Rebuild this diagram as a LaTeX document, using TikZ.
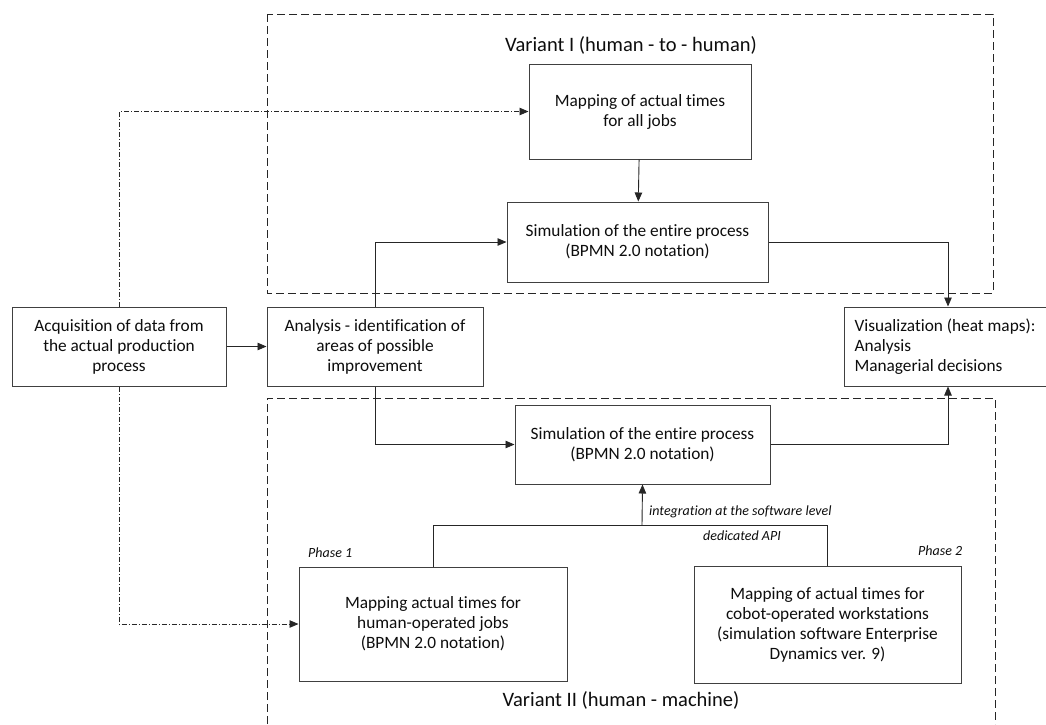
\documentclass[tikz,border=0pt]{standalone}
\usepackage{fontspec}
\setmainfont[Ligatures=CommonOff]{Carlito}
\usetikzlibrary{arrows.meta}

\begin{document}
\begin{tikzpicture}[x=1pt, y=-1pt,
        box/.style={draw=black!75, line width=1pt, align=center, inner sep=0pt, text=black!95, font=\fontsize{17.3}{20}\selectfont},
        flow/.style={draw=black!85, line width=0.9pt, -{Triangle[length=9pt, width=7.5pt]}},
        feed/.style={flow, dash pattern=on 5pt off 2pt on 1pt off 2pt},
        frame/.style={draw=black!85, line width=0.9pt, dash pattern=on 8pt off 4pt},
        note/.style={inner sep=0pt, text=black!95, font=\fontsize{14}{16}\selectfont\itshape},
        title/.style={inner sep=0pt, text=black!95, font=\fontsize{20.5}{24}\selectfont}]
        \useasboundingbox (0,0) rectangle (1046,724);
        % variant frames
        \draw[frame] (267,14) rectangle (993,293);
        \draw[frame] (267,724) -- (267,398) -- (995,398) -- (995,724);
        \node[title] (varI) at (631,45) {Variant I (human - to - human)};
        \node[title] (varII) at (621,700) {Variant II (human - machine)};
        % boxes
        \node[box, minimum width=214, minimum height=79] (acq) at (119,346.5) {Acquisition of data from\\the actual production\\process};
        \node[box, minimum width=216, minimum height=79] (ana) at (375,346.5) {Analysis - identification of\\areas of possible\\improvement};
        \node[box, minimum width=202, minimum height=79, align=left] (vis) at (945,346.5) {Visualization (heat maps):\\Analysis\\Managerial decisions};
        \node[box, minimum width=222, minimum height=95] (map) at (640,111.5) {Mapping of actual times\\for all jobs};
        \node[box, minimum width=261, minimum height=80] (simI) at (637.5,242) {Simulation of the entire process\\(BPMN 2.0 notation)};
        \node[box, minimum width=255, minimum height=79] (simII) at (642.5,444.5) {Simulation of the entire process\\(BPMN 2.0 notation)};
        \node[box, minimum width=268, minimum height=114] (ph1) at (433,624) {Mapping actual times for\\human-operated jobs\\(BPMN 2.0 notation)};
        \node[box, minimum width=267, minimum height=117] (ph2) at (827.5,624.5) {Mapping of actual times for\\cobot-operated workstations\\(simulation software Enterprise\\Dynamics ver. 9)};
        % labels
        \node[note, anchor=west] (integ) at (649,512) {integration at the software level};
        \node[note] (api lbl) at (742,536) {dedicated API};
        \node[note, anchor=west] (ph1 lbl) at (308,553) {Phase 1};
        \node[note, anchor=west] (ph2 lbl) at (918,551) {Phase 2};
        % connectors
        \draw[flow] (acq) -- (ana);
        \draw[flow] (map) -- (simI);
        \draw[flow] (ana.north) |- (simI.west);
        \draw[flow] (ana.south) |- (simII.west);
        \draw[flow] (simI.east) -| ([xshift=3pt]vis.north);
        \draw[flow] (simII.east) -| ([xshift=3pt]vis.south);
        \draw[feed] (acq.north) |- (map.west);
        \draw[feed] (acq.south) |- (ph1.west);
        \coordinate (api) at (642,525);
        \draw[draw=black!85, line width=0.9pt] (ph1.north) |- (api) -| (ph2.north);
        \draw[flow] (api) -- (simII.south);
    \end{tikzpicture}
\end{document}
